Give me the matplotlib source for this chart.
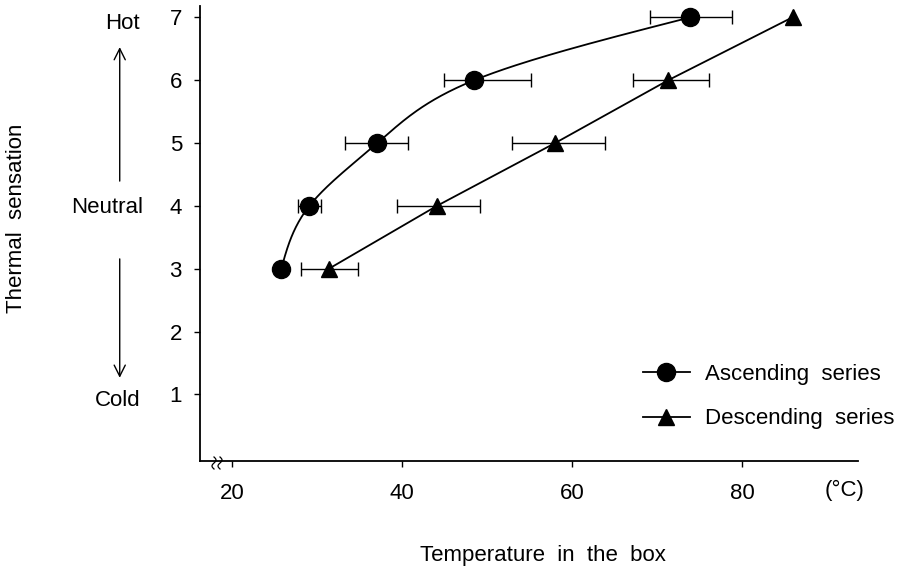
import numpy as np
import matplotlib
matplotlib.use("Agg")
import matplotlib.pyplot as plt
from matplotlib.lines import Line2D

plt.rcParams['font.family'] = ['Liberation Sans', 'DejaVu Sans']

# Data
sensation = [3, 4, 5, 6, 7]
asc_temp = [25.8, 29.1, 37.1, 48.5, 73.9]
asc_low = [25.8, 27.8, 33.3, 44.9, 69.1]
asc_high = [25.8, 30.5, 40.7, 55.2, 78.8]
desc_temp = [31.4, 44.1, 58.0, 71.3, 85.9]
desc_low = [28.1, 39.4, 52.9, 67.2, 85.9]
desc_high = [34.8, 49.2, 63.8, 76.1, 85.9]
xticks = [20, 40, 60, 80]
yticks = [1, 2, 3, 4, 5, 6, 7]
sens_labels = {7: "Hot", 4: "Neutral", 1: "Cold"}

FS = 16


def natural_spline(xk, yk, xs):
    xk = np.asarray(xk, float); yk = np.asarray(yk, float)
    n = len(xk)
    h = np.diff(xk)
    A = np.zeros((n, n)); b = np.zeros(n)
    A[0, 0] = A[-1, -1] = 1
    for i in range(1, n - 1):
        A[i, i - 1] = h[i - 1]; A[i, i] = 2 * (h[i - 1] + h[i]); A[i, i + 1] = h[i]
        b[i] = 3 * ((yk[i + 1] - yk[i]) / h[i] - (yk[i] - yk[i - 1]) / h[i - 1])
    c = np.linalg.solve(A, b)
    out = np.empty_like(xs)
    for j, x in enumerate(xs):
        i = min(max(np.searchsorted(xk, x) - 1, 0), n - 2)
        dx = x - xk[i]
        bb = (yk[i + 1] - yk[i]) / h[i] - h[i] * (2 * c[i] + c[i + 1]) / 3
        d = (c[i + 1] - c[i]) / (3 * h[i])
        out[j] = yk[i] + bb * dx + c[i] * dx ** 2 + d * dx ** 3
    return out


fig = plt.figure(figsize=(8.98, 5.68), dpi=100)
ax = fig.add_axes([200 / 898, 1 - 461 / 568, 658 / 898, 455 / 568])
ax.set_xlim(16.24, 93.6)
ax.set_ylim(-0.06, 7.18)

# Ascending: smooth curve
ys = np.linspace(3, 7, 200)
ax.plot(natural_spline(sensation, asc_temp, ys), ys, color='black', lw=1.3, zorder=2)
a_err = [np.array(asc_temp) - np.array(asc_low), np.array(asc_high) - np.array(asc_temp)]
ax.errorbar(asc_temp, sensation, xerr=a_err, fmt='none', ecolor='black', elinewidth=1.0,
            capsize=5, capthick=1.0, zorder=2)
ax.plot(asc_temp, sensation, 'o', color='black', ms=13, zorder=3)

# Descending: straight segments
d_err = [np.array(desc_temp) - np.array(desc_low), np.array(desc_high) - np.array(desc_temp)]
ax.errorbar(desc_temp, sensation, xerr=d_err, fmt='none', ecolor='black', elinewidth=1.0,
            capsize=5, capthick=1.0, zorder=2)
ax.plot(desc_temp, sensation, '-^', color='black', lw=1.3, ms=12, zorder=3)

for s in ['top', 'right']:
    ax.spines[s].set_visible(False)
for s in ['left', 'bottom']:
    ax.spines[s].set_linewidth(1.3)

ax.set_xticks(xticks)
ax.set_yticks(yticks)
ax.tick_params(axis='both', direction='out', length=4, width=1.0, labelsize=FS)
ax.tick_params(axis='x', pad=12)
ax.tick_params(axis='y', pad=9)

# Units
fig.text(845 / 898, 1 - 490 / 568, "(°C)", fontsize=FS, ha='center', va='center')

# Axis labels
fig.text(543 / 898, 1 - 556 / 568, "Temperature  in  the  box", fontsize=FS, ha='center', va='center')
fig.text(17 / 898, 1 - 218 / 568, "Thermal  sensation", fontsize=FS, rotation=90, ha='center', va='center')

# Sensation descriptors
tr = ax.get_yaxis_transform()
label_x = {"Hot": -0.118, "Neutral": -0.141, "Cold": -0.125}
label_dy = {"Hot": -0.1, "Neutral": -0.02, "Cold": -0.1}
for v, lab in sens_labels.items():
    ax.text(label_x[lab], v + label_dy[lab], lab, transform=tr, fontsize=FS,
            ha='center', va='center', clip_on=False)
ax.annotate("", xy=(-0.122, 6.57), xytext=(-0.122, 4.35), xycoords=tr, textcoords=tr,
            arrowprops=dict(arrowstyle='->', lw=1.0, color='black', mutation_scale=20), annotation_clip=False)
ax.annotate("", xy=(-0.122, 1.22), xytext=(-0.122, 3.2), xycoords=tr, textcoords=tr,
            arrowprops=dict(arrowstyle='->', lw=1.0, color='black', mutation_scale=20), annotation_clip=False)

# Axis break marks near origin
t = np.linspace(0, 1, 30)
for x0 in [214, 220]:
    xx = x0 + 2 * np.sin(t * 2 * np.pi)
    yy = 568 - (457 + t * 12)
    fig.add_artist(Line2D(xx / 898, yy / 568, color='black', lw=0.9))

# Legend
handles = [Line2D([], [], color='black', marker='o', ms=13, lw=1.3),
           Line2D([], [], color='black', marker='^', ms=12, lw=1.3)]
leg = ax.legend(handles, ["Ascending  series", "Descending  series"], loc='upper left',
                bbox_to_anchor=((643 - 200) / 658, (461 - 364) / 455), frameon=False, fontsize=FS,
                handlelength=2.1, labelspacing=1.05, handletextpad=0.7, borderpad=0, borderaxespad=0)

fig.savefig("out.png", dpi=100)
